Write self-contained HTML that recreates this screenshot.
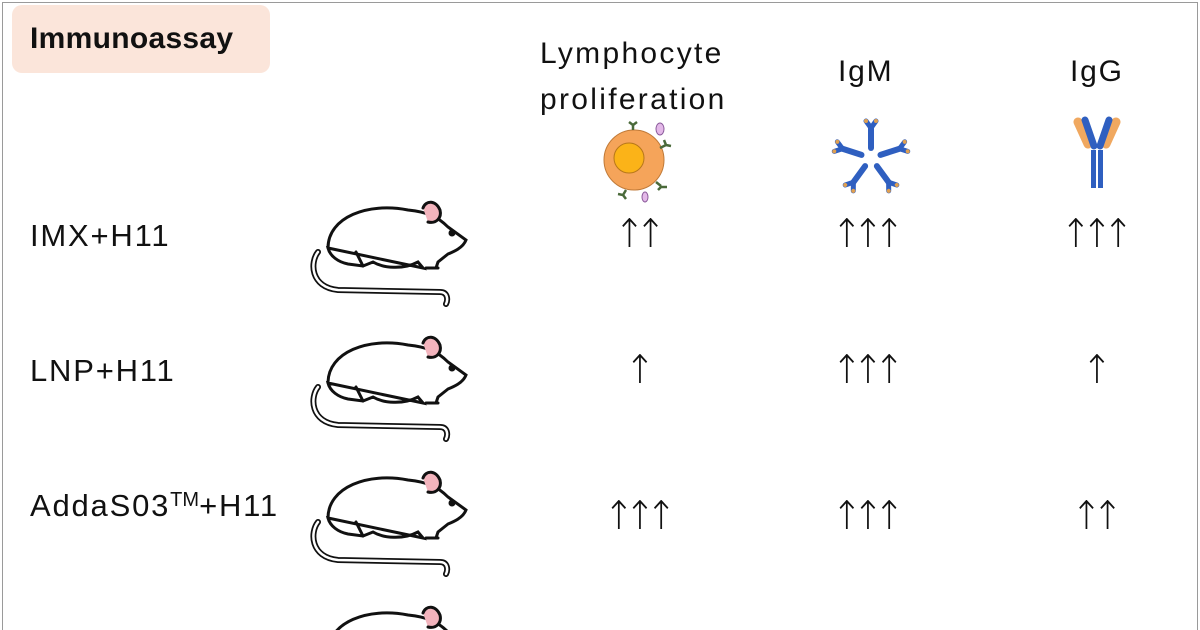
<!DOCTYPE html>
<html><head><meta charset="utf-8"><style>
html,body{margin:0;padding:0;background:#fff;width:1200px;height:630px;overflow:hidden}
#c{position:relative;width:1200px;height:630px;overflow:hidden;font-family:"Liberation Sans",sans-serif;color:#111}
.frame{position:absolute;left:2px;top:2px;width:1194px;height:630px;border:1px solid #9a9a9a;border-bottom:none}
.t{position:absolute;white-space:nowrap;font-size:31px;letter-spacing:1.8px}
.arr{position:absolute;font-size:36px;text-align:center;width:140px;letter-spacing:-9px;text-indent:-9px;font-family:"DejaVu Sans",sans-serif;font-weight:300;transform:scaleY(1.1)}
.badge{position:absolute;left:12px;top:5px;width:258px;height:68px;background:#fbe5da;border-radius:10px}
.m{position:absolute}
</style></head><body><div id="c">
<div class="frame"></div>
<div class="badge"></div>
<div class="t" style="left:30px;top:22px;font-weight:bold;font-size:30px;letter-spacing:0.3px">Immunoassay</div>
<div class="t" style="left:540px;top:37px;font-size:30px;letter-spacing:2.3px">Lymphocyte</div>
<div class="t" style="left:540px;top:83px;font-size:30px;letter-spacing:2.3px">proliferation</div>
<div class="t" style="left:838px;top:55px;font-size:30px">IgM</div>
<div class="t" style="left:1070px;top:55px;font-size:30px">IgG</div>

<svg style="position:absolute;left:598px;top:118px" width="80" height="90" viewBox="0 0 80 90">
<circle cx="36" cy="42" r="30" fill="#f5a45a" stroke="#c07a38"/>
<circle cx="31" cy="40" r="15" fill="#fbb318" stroke="#b7771a"/>
<g stroke="#4a6a3a" stroke-width="2.5" fill="none">
<path d="M35 12v-6M31 4l4 3 4-3"/><path d="M62 30l6-3M66 22l2 5 5 1"/><path d="M58 64l5 4M60 72l3-3 6 0"/><path d="M28 72l-3 5M20 76l5 1 3 4"/></g>
<ellipse cx="62" cy="11" rx="4" ry="6" fill="#e3b8e8" stroke="#8a5a9a"/>
<ellipse cx="47" cy="79" rx="3" ry="5" fill="#e3b8e8" stroke="#8a5a9a"/>
</svg>
<svg style="position:absolute;left:828px;top:118px" width="86" height="80" viewBox="0 0 86 80">
<g stroke-linecap="round">
<g id="arm"><line x1="43" y1="30" x2="43" y2="10" stroke="#2f5fc0" stroke-width="6"/><line x1="43" y1="10" x2="38" y2="3" stroke="#2f5fc0" stroke-width="5"/><line x1="43" y1="10" x2="48" y2="3" stroke="#2f5fc0" stroke-width="5"/><circle cx="38" cy="3" r="2" fill="#e0a050"/><circle cx="48" cy="3" r="2" fill="#e0a050"/></g>
<use href="#arm" transform="rotate(72 43 40)"/><use href="#arm" transform="rotate(144 43 40)"/><use href="#arm" transform="rotate(216 43 40)"/><use href="#arm" transform="rotate(288 43 40)"/>
</g></svg>
<svg style="position:absolute;left:1068px;top:116px" width="60" height="80" viewBox="0 0 60 80">
<g stroke-linecap="round"><line x1="10" y1="6" x2="20" y2="28" stroke="#f0a860" stroke-width="9"/><line x1="48" y1="6" x2="38" y2="28" stroke="#f0a860" stroke-width="9"/>
<line x1="17" y1="4" x2="26" y2="30" stroke="#2f5fc0" stroke-width="7"/><line x1="41" y1="4" x2="32" y2="30" stroke="#2f5fc0" stroke-width="7"/>
<rect x="23" y="34" width="5" height="38" fill="#2f5fc0"/><rect x="30" y="34" width="5" height="38" fill="#2f5fc0"/></g></svg>

<svg width="0" height="0" style="position:absolute"><defs><g id="mouse" fill="none" stroke="#111" stroke-width="3" stroke-linecap="round">
<path d="M10 60 C2 70 2 95 30 98 L132 100 C140 100 140 108 138 112" stroke-width="6"/>
<path d="M10 60 C2 70 2 95 30 98 L132 100 C140 100 140 108 138 112" stroke="#fff" stroke-width="2.5"/>
<path d="M20 56 C20 25 60 10 100 18 C120 20 130 25 140 35 L158 48 C155 56 145 60 140 62 L130 70 L128 76 M115 76 L110 70 C95 78 75 76 65 70 L55 74 L40 72 C30 70 22 64 20 56Z" fill="#fff"/>
<path d="M115 16 C118 8 128 8 132 18 C134 26 128 32 120 30" fill="#f3b4bd"/>
<circle cx="144" cy="41" r="2" fill="#111"/>
<path d="M55 74 L48 60 M118 76 L130 76"/></g></defs></svg>
<svg class="m" style="left:308px;top:192px" width="170" height="115" viewBox="0 0 170 115"><use href="#mouse"/></svg>
<svg class="m" style="left:308px;top:327px" width="170" height="115" viewBox="0 0 170 115"><use href="#mouse"/></svg>
<svg class="m" style="left:308px;top:462px" width="170" height="115" viewBox="0 0 170 115"><use href="#mouse"/></svg>
<svg class="m" style="left:308px;top:597px" width="170" height="33" viewBox="0 0 170 33"><use href="#mouse"/></svg>

<div class="t" style="left:30px;top:218px">IMX+H11</div>
<div class="t" style="left:30px;top:353px">LNP+H11</div>
<div class="t" style="left:30px;top:488px">AddaS03<sup style="font-size:20px;vertical-align:10px;letter-spacing:0">TM</sup>+H11</div>

<div class="arr" style="left:570px;top:214px">↑↑</div>
<div class="arr" style="left:798px;top:214px">↑↑↑</div>
<div class="arr" style="left:1027px;top:214px">↑↑↑</div>
<div class="arr" style="left:570px;top:350px">↑</div>
<div class="arr" style="left:798px;top:350px">↑↑↑</div>
<div class="arr" style="left:1027px;top:350px">↑</div>
<div class="arr" style="left:570px;top:496px">↑↑↑</div>
<div class="arr" style="left:798px;top:496px">↑↑↑</div>
<div class="arr" style="left:1027px;top:496px">↑↑</div>
</div></body></html>
